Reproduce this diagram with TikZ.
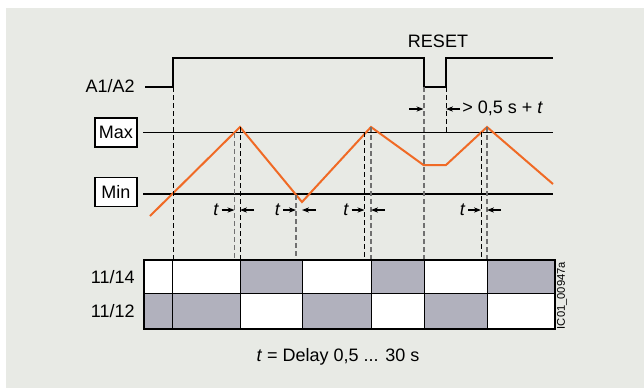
\documentclass[tikz,border=0pt]{standalone}
\usepackage{fontspec}
\setmainfont{Liberation Sans}
\usepackage{xcolor}
\usetikzlibrary{positioning,calc,arrows.meta}
\definecolor{CBack}{HTML}{E8EAE5}
\definecolor{COrange}{HTML}{F06A25}
\definecolor{CCell}{HTML}{B1B1BD}
\definecolor{CDash}{HTML}{707070}

\begin{document}
\begin{tikzpicture}[x=0.5pt, y=-0.5pt,
  every node/.style={font=\fontsize{9}{11}\selectfont, inner sep=1pt},
  lvlbox/.style={draw, fill=white, line width=0.9pt, minimum width=21pt, minimum height=14.5pt, inner sep=0pt},
  sig/.style={line width=1pt},
  ramp/.style={COrange, line width=1pt},
  lvl/.style={line width=0.6pt},
  dsh/.style={dash pattern=on 2.5pt off 1.5pt, line width=0.5pt},
  dshg/.style={dsh, CDash, line width=0.8pt},
  dimarr/.style={-{Stealth[length=3.5pt,width=2.6pt]}, line width=0.6pt}]

  \useasboundingbox (0,0) rectangle (644,388);
  \fill[CBack] (6,8) rectangle (644,388);

  % labels on the left
  \node[anchor=east] (a1a2) at (137,86) {A1/A2};
  \node[lvlbox] (max) at (116,132.5) {Max};
  \node[lvlbox] (min) at (116,192) {Min};
  \node (reset) at (438,41) {RESET};

  % thresholds
  \coordinate (maxl) at (143,132.5);
  \coordinate (maxr) at (553,132.5);
  \coordinate (minl) at (143,194);
  \coordinate (minr) at (553,194);
  \draw[lvl] (maxl) -- (maxr);
  \draw[lvl] (minl) -- (minr);

  % supply A1/A2 with reset pulse
  \draw[sig] (145,87) -- (173,87) -- (173,57.5) -- (423.5,57.5) -- (423.5,87)
    -- (446,87) -- (446,57.5) -- (553,57.5);

  % measured value
  \draw[ramp] (150,216) -- (240,127) -- (302,202) -- (371,127) -- (423.5,165)
    -- (446,165) -- (487,127) -- (553,184);

  % dashed guides
  \foreach \x/\ya/\st in {173/87/dsh, 234.5/133/dshg, 240/127/dsh, 296/195/dshg,
      364.5/132/dsh, 371/127/dshg, 424/87/dshg, 481/132/dsh, 487/127/dshg}
    \draw[\st] (\x,\ya) -- (\x,260);
  \draw[dsh] (446,87) -- (446,132.5);

  % delay t
  \foreach \xl/\xr [count=\i] in {234.5/240, 296/302, 364.5/371, 481/487}{
    \node[anchor=east] (t\i) at (\xl-13,210) {\textit{t}};
    \coordinate (tl\i) at (\xl,210);
    \coordinate (tr\i) at (\xr,210);
    \coordinate (te\i) at (\xr+14,210);
    \draw[dimarr] (t\i) -- (tl\i);
    \draw[dimarr] (te\i) -- (tr\i);
  }

  % reset time
  \coordinate (rs0) at (409,109);
  \coordinate (rsa) at (423.5,109);
  \coordinate (rsb) at (446,109);
  \node[anchor=west] (tmin) at (460,108) {> 0,5 s + \textit{t}};
  \draw[dimarr] (rs0) -- (rsa);
  \draw[dimarr] (tmin.west |- rsb) -- (rsb);

  % contact table
  \foreach \xa/\xb/\ca/\cb in {144/172.5/white/CCell, 172.5/240/white/CCell,
      240/302/CCell/white, 302/371/white/CCell, 371/424/CCell/white,
      424/487/white/CCell, 487/555/CCell/white}{
    \draw[line width=0.5pt, fill=\ca] (\xa,260) rectangle (\xb,293.5);
    \draw[line width=0.5pt, fill=\cb] (\xa,293.5) rectangle (\xb,328.5);
  }
  \draw[line width=1pt] (144,260) rectangle (555,328.5);
  \node[anchor=east] (r14) at (137,277) {11/14};
  \node[anchor=east] (r12) at (137,311.5) {11/12};
  \node[rotate=90, font=\fontsize{5.6}{6}\selectfont] (code) at (562,295.5) {IC01\_00947a};
  \node (cap) at (338,357) {\textit{t} = Delay 0,5 ... 30 s};
\end{tikzpicture}
\end{document}
